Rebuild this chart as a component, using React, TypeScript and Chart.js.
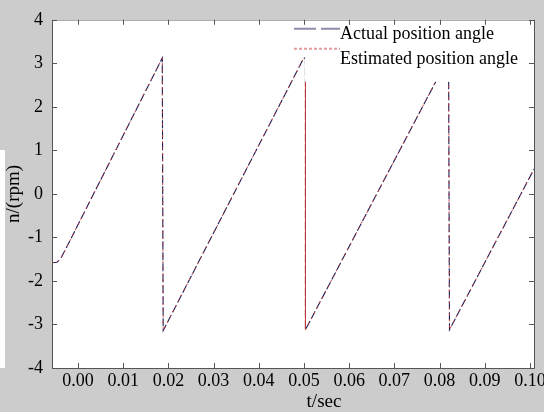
import React, { useEffect, useRef } from 'react';
import { Chart, registerables } from 'chart.js';

Chart.register(...registerables);

// ---- data ----
const TIME = [-0.00575, -0.00465, -0.00376, -0.00288, 0.01865, 0.01885, 0.04995, 0.05033, 0.05033, 0.082, 0.0822, 0.1009];
const ACTUAL = [-1.58, -1.57, -1.47, -1.3, 3.12, -3.14, 3.12, 3.12, -3.12, 3.14, -3.12, 0.57];
const ESTIMATED = [-1.58, -1.57, -1.47, -1.3, 3.12, -3.14, 3.12, 3.12, -3.12, 3.14, -3.12, 0.57];
const SERIES_LABELS = ['Actual position angle', 'Estimated position angle'];
const X_TICKS = [0, 0.01, 0.02, 0.03, 0.04, 0.05, 0.06, 0.07, 0.08, 0.09, 0.1];
const Y_TICKS = [-4, -3, -2, -1, 0, 1, 2, 3, 4];
const X_MIN = -0.00575;
const X_MAX = 0.1009;
const Y_MIN = -4;
const Y_MAX = 4;
const X_TITLE = 't/sec';
const Y_TITLE = 'n/(rpm)';
const SOLID_SEGMENT_INDEX = 7;

const FONT = '"Liberation Serif", "Times New Roman", serif';

const decorPlugin = {
  id: 'decor',
  beforeDraw(chart: any) {
    const { ctx, chartArea: a, width, height } = chart;
    ctx.save();
    ctx.fillStyle = '#cccccc';
    ctx.fillRect(0, 0, width, height);
    ctx.fillStyle = '#ffffff';
    ctx.fillRect(0, 150, 5, a.bottom - 150);
    ctx.fillRect(a.left, a.top, a.right - a.left, a.bottom - a.top);
    ctx.restore();
  },
  afterDatasetsDraw(chart: any) {
    const { ctx, chartArea: a } = chart;
    ctx.save();
    // legend background
    ctx.fillStyle = '#ffffff';
    ctx.fillRect(305, a.top, a.right - 305, 62);
    const items = chart.data.datasets;
    const rows = [
      { sy: a.top + 9, ty: a.top + 14 },
      { sy: a.top + 29, ty: a.top + 39 },
    ];
    items.forEach((ds: any, i: number) => {
      const r = rows[i];
      ctx.save();
      ctx.globalAlpha = 0.5;
      ctx.strokeStyle = ds.borderColor;
      ctx.lineWidth = 2;
      ctx.setLineDash(i === 0 ? [22, 5] : [3, 2]);
      ctx.beginPath();
      ctx.moveTo(294, r.sy);
      ctx.lineTo(340, r.sy);
      ctx.stroke();
      ctx.restore();
      ctx.fillStyle = '#000';
      ctx.font = `18px ${FONT}`;
      ctx.textAlign = 'left';
      ctx.textBaseline = 'middle';
      ctx.fillText(ds.label, 340, r.ty);
    });
    ctx.restore();
  },
  afterDraw(chart: any) {
    const { ctx, chartArea: a, scales } = chart;
    ctx.save();
    ctx.lineWidth = 1;
    // frame
    ctx.strokeStyle = '#999';
    ctx.beginPath();
    ctx.moveTo(a.left, a.top + 0.5);
    ctx.lineTo(a.right, a.top + 0.5);
    ctx.stroke();
    ctx.strokeStyle = '#555';
    ctx.beginPath();
    ctx.moveTo(a.left + 0.5, a.top);
    ctx.lineTo(a.left + 0.5, a.bottom + 0.5);
    ctx.lineTo(a.right + 0.5, a.bottom + 0.5);
    ctx.lineTo(a.right + 0.5, a.top);
    ctx.stroke();
    // inward ticks
    const tl = 5;
    ctx.beginPath();
    scales.x.ticks.forEach((t: any) => {
      const px = Math.round(scales.x.getPixelForValue(t.value)) + 0.5;
      ctx.moveTo(px, a.bottom);
      ctx.lineTo(px, a.bottom - tl);
      ctx.moveTo(px, a.top);
      ctx.lineTo(px, a.top + tl);
    });
    scales.y.ticks.forEach((t: any) => {
      const py = Math.round(scales.y.getPixelForValue(t.value)) + 0.5;
      ctx.moveTo(a.left, py);
      ctx.lineTo(a.left + tl, py);
      ctx.moveTo(a.right, py);
      ctx.lineTo(a.right - tl, py);
    });
    ctx.stroke();
    // x title
    ctx.fillStyle = '#000';
    ctx.font = `19px ${FONT}`;
    ctx.textAlign = 'center';
    ctx.textBaseline = 'middle';
    ctx.fillText(X_TITLE, 324, 402);
    ctx.restore();
  },
};

export default function App() {
  const ref = useRef<HTMLCanvasElement>(null);

  useEffect(() => {
    if (!ref.current) return;
    const chart = new Chart(ref.current, {
      type: 'line',
      data: {
        datasets: [
          {
            label: SERIES_LABELS[0],
            data: TIME.map((t, i) => ({ x: t, y: ACTUAL[i] })),
            borderColor: '#1c1c58',
            borderWidth: 1.1,
            borderDash: [8, 3],
            pointRadius: 0,
            tension: 0,
            fill: false,
            order: 1,
          },
          {
            label: SERIES_LABELS[1],
            data: TIME.map((t, i) => ({ x: t, y: ESTIMATED[i] })),
            borderColor: '#c83838',
            borderWidth: 1,
            borderDash: [2, 4],
            pointRadius: 0,
            tension: 0,
            fill: false,
            order: 0,
            segment: {
              borderDash: (c: any) => (c.p0DataIndex === SOLID_SEGMENT_INDEX ? [] : undefined),
            },
          },
        ],
      },
      options: {
        animation: false,
        responsive: false,
        maintainAspectRatio: false,
        layout: { padding: { left: 0, top: 19, right: 10, bottom: 0 } },
        plugins: {
          legend: { display: false },
          tooltip: { enabled: false },
        },
        scales: {
          x: {
            type: 'linear',
            min: X_MIN,
            max: X_MAX,
            afterBuildTicks: (s: any) => {
              s.ticks = X_TICKS.map((v) => ({ value: v }));
            },
            afterFit: (s: any) => {
              s.height = 44;
              s.paddingLeft = 0;
              s.paddingRight = 0;
            },
            grid: { display: false, drawTicks: false },
            border: { display: false },
            ticks: {
              autoSkip: false,
              maxRotation: 0,
              minRotation: 0,
              padding: 2,
              color: '#000',
              font: { family: FONT, size: 18 },
              callback: (v: any) => Number(v).toFixed(2),
            },
          },
          y: {
            type: 'linear',
            min: Y_MIN,
            max: Y_MAX,
            afterBuildTicks: (s: any) => {
              s.ticks = Y_TICKS.map((v) => ({ value: v }));
            },
            afterFit: (s: any) => {
              s.width = 52;
            },
            grid: { display: false, drawTicks: false },
            border: { display: false },
            ticks: {
              padding: 9,
              color: '#000',
              font: { family: FONT, size: 18 },
              callback: (v: any) => String(v),
            },
            title: {
              display: true,
              text: Y_TITLE,
              color: '#000',
              font: { family: FONT, size: 19 },
              padding: { top: 3, bottom: 0 },
            },
          },
        },
      },
      plugins: [decorPlugin],
    } as any);
    return () => chart.destroy();
  }, []);

  return (
    <div style={{ position: 'absolute', left: 0, top: 0, width: 544, height: 412 }}>
      <canvas ref={ref} width={544} height={412} style={{ display: 'block', width: 544, height: 412 }} />
    </div>
  );
}
